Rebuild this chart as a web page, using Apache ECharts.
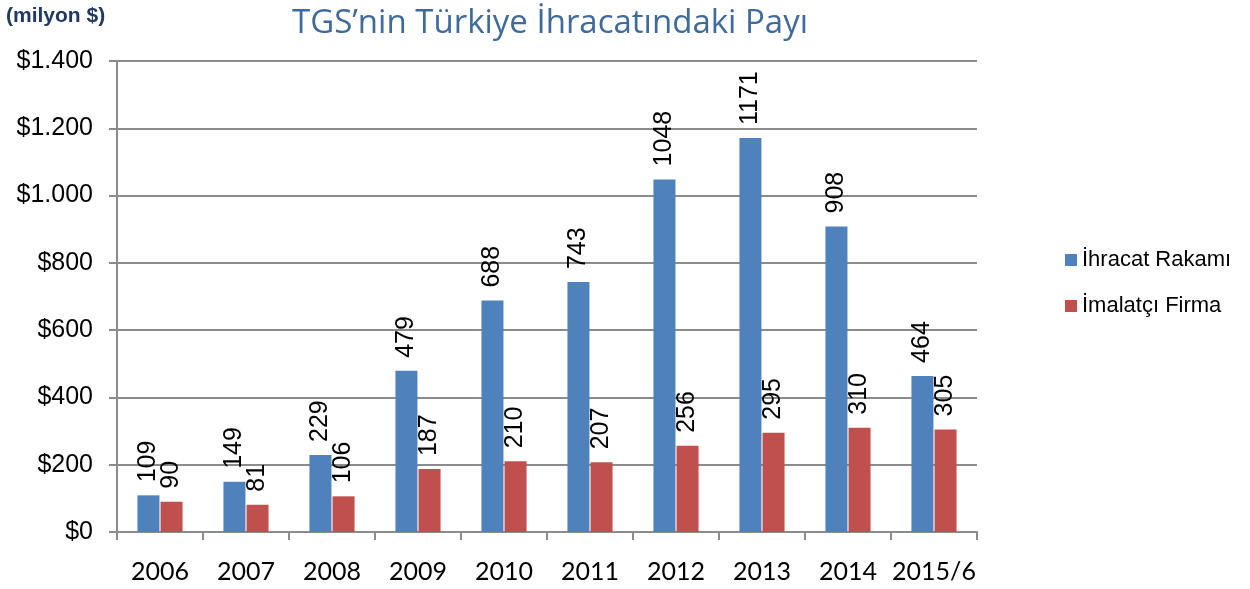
<!DOCTYPE html>
<html>
<head>
<meta charset="utf-8">
<script src="https://cdn.jsdelivr.net/npm/echarts@6/dist/echarts.min.js"></script>
<style>
  html, body { margin: 0; padding: 0; background: #fff; }
  #chart { width: 1250px; height: 589px; }
</style>
</head>
<body>
<div id="chart"></div>
<script>
const years = ['2006', '2007', '2008', '2009', '2010', '2011', '2012', '2013', '2014', '2015/6'];
const ihracat = [109, 149, 229, 479, 688, 743, 1048, 1171, 908, 464];
const imalatci = [90, 81, 106, 187, 210, 207, 256, 295, 310, 305];

const chart = echarts.init(document.getElementById('chart'));

const arial = '"Liberation Sans", Arial, sans-serif';

const labelStyle = {
  show: true,
  position: 'top',
  rotate: 90,
  align: 'left',
  verticalAlign: 'middle',
  distance: 13,
  color: '#000',
  fontFamily: arial,
  fontSize: 25
};

chart.setOption({
  animation: false,
  title: [
    {
      text: 'TGS’nin Türkiye İhracatındaki Payı',
      left: 545,
      top: 2,
      textAlign: 'center',
      textStyle: { color: '#3f6b9c', fontFamily: '"Open Sans", sans-serif', fontWeight: 'normal', fontSize: 33 }
    },
    {
      text: '(milyon $)',
      left: 1,
      top: 1,
      textStyle: { color: '#1f3864', fontFamily: arial, fontWeight: 'bold', fontSize: 21 }
    }
  ],
  legend: {
    orient: 'vertical',
    left: 1060,
    top: 244,
    itemWidth: 12,
    itemHeight: 12,
    itemGap: 24,
    icon: 'rect',
    textStyle: { color: '#000', fontFamily: arial, fontSize: 22 },
    data: ['İhracat Rakamı', 'İmalatçı Firma']
  },
  grid: { left: 117, right: 273, top: 61, bottom: 57, containLabel: false },
  xAxis: {
    type: 'category',
    data: years,
    axisLine: { lineStyle: { color: '#8c8c8c', width: 2 } },
    axisTick: { show: true, length: 8, lineStyle: { color: '#8c8c8c', width: 2 } },
    axisLabel: { interval: 0, color: '#000', fontFamily: 'Lato, sans-serif', fontSize: 25, margin: 27 }
  },
  yAxis: {
    type: 'value',
    min: 0,
    max: 1400,
    interval: 200,
    axisLine: { show: true, lineStyle: { color: '#8c8c8c', width: 2 } },
    axisTick: { show: true, length: 8, lineStyle: { color: '#8c8c8c', width: 2 } },
    splitLine: { lineStyle: { color: '#8c8c8c', width: 2 } },
    axisLabel: {
      color: '#000',
      fontFamily: arial,
      fontSize: 25,
      margin: 24,
      formatter: function (v) {
        return '$' + String(v).replace(/\B(?=(\d{3})+(?!\d))/g, '.');
      }
    }
  },
  series: [
    {
      name: 'İhracat Rakamı',
      type: 'bar',
      data: ihracat,
      barWidth: 22,
      barGap: '5%',
      itemStyle: { color: '#4f81bd' },
      label: labelStyle
    },
    {
      name: 'İmalatçı Firma',
      type: 'bar',
      data: imalatci,
      barWidth: 22,
      itemStyle: { color: '#c0504d' },
      label: labelStyle
    }
  ]
});
</script>
</body>
</html>
